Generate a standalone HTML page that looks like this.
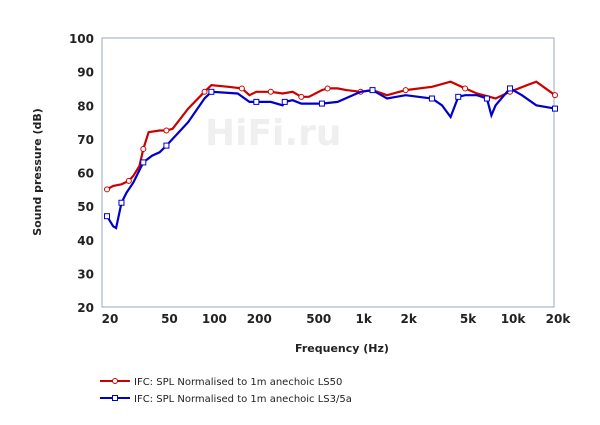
<!DOCTYPE html>
<html><head><meta charset="utf-8"><style>
body{margin:0;background:#fff;width:600px;height:420px;overflow:hidden}
svg text{font-family:"DejaVu Sans","Liberation Sans",sans-serif;font-weight:bold;fill:#222}
</style></head><body>
<svg id="s" width="600" height="420" xmlns="http://www.w3.org/2000/svg">
<rect x="102" y="38" width="452" height="269" fill="#fff" stroke="#9ab" stroke-width="1"/>
<text x="205" y="145" font-family="Liberation Serif" font-size="36" style="fill:#efefef">HiFi.ru</text>
<g id="ax" font-size="12"></g>
<text x="342" y="352" font-size="11" text-anchor="middle">Frequency  (Hz)</text>
<text transform="translate(41,172) rotate(-90)" font-size="11" text-anchor="middle">Sound pressure  (dB)</text>
<g id="d"></g>
<line x1="100" y1="381" x2="130" y2="381" stroke="#c00" stroke-width="2"/>
<circle cx="115" cy="381" r="2.5" fill="#fff" stroke="#c00"/>
<text x="134" y="385" font-size="10" style="font-weight:normal">IFC: SPL Normalised to 1m anechoic LS50</text>
<line x1="100" y1="398" x2="130" y2="398" stroke="#00c" stroke-width="2"/>
<rect x="112.5" y="395.5" width="5" height="5" fill="#fff" stroke="#00c"/>
<text x="134" y="402" font-size="10" style="font-weight:normal">IFC: SPL Normalised to 1m anechoic LS3/5a</text>
</svg>
<script>
var NS="http://www.w3.org/2000/svg";
function X(f){return 107+Math.log10(f/20)/3*448}
function Y(v){return 307-(v-20)*269/80}
var ax=document.getElementById('ax');
function t(x,y,s,a){var e=document.createElementNS(NS,'text');e.setAttribute('x',x);e.setAttribute('y',y);e.setAttribute('text-anchor',a);e.textContent=s;ax.appendChild(e)}
for(var v=20;v<=100;v+=10)t(94,Y(v)+5,v,'end');
[[20,'20'],[50,'50'],[100,'100'],[200,'200'],[500,'500'],[1000,'1k'],[2000,'2k'],[5000,'5k'],[10000,'10k'],[20000,'20k']].forEach(function(p){t(X(p[0])+3,323,p[1],'middle')});
var red=[[20,55],[22,56],[25,56.5],[28,57.5],[30,59],[33,62],[35,67],[38,72],[45,72.5],[50,72.5],[55,73],[70,79],[90,84],[100,86],[130,85.5],[160,85],[180,83],[200,84],[250,84],[300,83.5],[350,84],[400,82.5],[450,82.5],[550,84.5],[600,85],[700,85],[800,84.5],[1000,84],[1200,84.5],[1500,83],[2000,84.5],[3000,85.5],[4000,87],[5000,85],[6000,83.5],[8000,82],[10000,84],[13000,86],[15000,87],[20000,83]];
var blue=[[20,47],[22,44],[23,43.5],[25,51],[27,54],[30,57],[35,63],[40,65],[45,66],[50,68],[70,75],[90,82],[100,84],[150,83.5],[180,81],[200,81],[250,81],[300,80],[310,81],[350,81.5],[400,80.5],[550,80.5],[700,81],[1000,84],[1200,84.5],[1500,82],[2000,83],[3000,82],[3500,80],[4000,76.5],[4500,82.5],[5000,83],[6000,83],[7000,82],[7500,77],[8000,80],[10000,85],[12000,83],[15000,80],[20000,79]];
var d=document.getElementById('d');
function draw(arr,c,sq){var p=document.createElementNS(NS,'polyline');p.setAttribute('points',arr.map(function(a){return X(a[0]).toFixed(1)+','+Y(a[1]).toFixed(1)}).join(' '));p.setAttribute('fill','none');p.setAttribute('stroke',c);p.setAttribute('stroke-width','2.2');d.appendChild(p);
for(var i=0;i<arr.length;i+=3){var x=X(arr[i][0]),y=Y(arr[i][1]),m;if(sq){m=document.createElementNS(NS,'rect');m.setAttribute('x',x-2.5);m.setAttribute('y',y-2.5);m.setAttribute('width',5);m.setAttribute('height',5)}else{m=document.createElementNS(NS,'circle');m.setAttribute('cx',x);m.setAttribute('cy',y);m.setAttribute('r',2.5)}m.setAttribute('fill','#fff');m.setAttribute('stroke',c);d.appendChild(m)}}
draw(red,'#c00',false);draw(blue,'#00c',true);
</script>
</body></html>
